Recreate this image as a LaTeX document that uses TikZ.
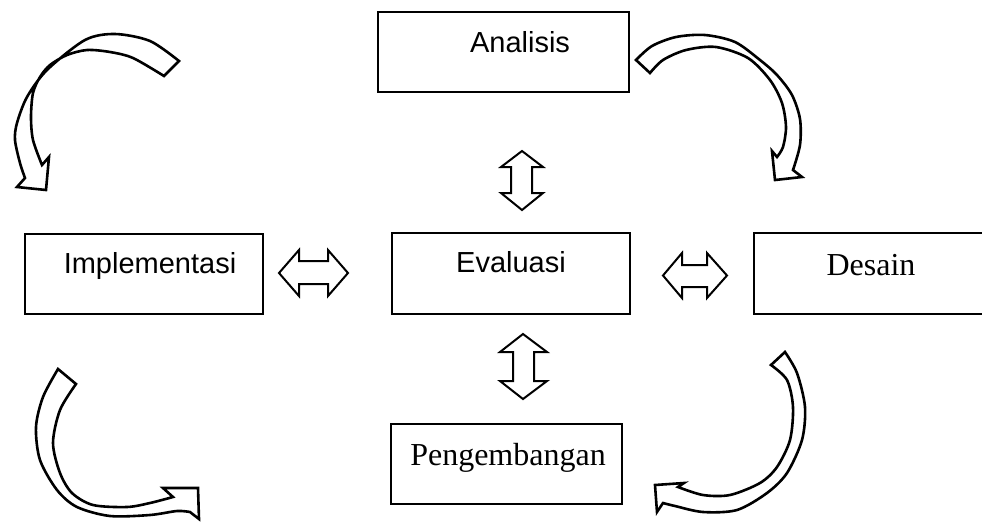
\documentclass[tikz,border=0pt]{standalone}
\usepackage{fontspec}
\setmainfont{Liberation Serif}
\newfontfamily\arialfont{Liberation Sans}

\begin{document}
\begin{tikzpicture}[x=0.5pt,y=-0.5pt,line join=miter,
  box/.style={draw,line width=1pt,inner sep=0pt,minimum height=40pt},
  sans/.style={font=\arialfont\fontsize{14.5}{17}\selectfont,anchor=base,inner sep=0pt},
  serif/.style={font=\fontsize{16}{19}\selectfont,anchor=base,inner sep=0pt},
  blk/.style={draw,line width=1pt},
  curv/.style={draw,line width=1.3pt}]
  \useasboundingbox (0,0) rectangle (982,527);
  % boxes
  \node[box,minimum width=125.5pt] (ana) at (503.5,52) {};
  \node[box,minimum width=119pt,minimum height=40.5pt] (eva) at (511,273.5) {};
  \node[box,minimum width=119pt] (imp) at (144,274) {};
  \node[box,minimum width=118pt,minimum height=40.5pt] (des) at (872,273.5) {};
  \node[box,minimum width=115.5pt] (pen) at (506.5,464) {};
  \node[sans] (anat) at (520,52) {Analisis};
  \node[sans] (evat) at (511,272) {Evaluasi};
  \node[sans] (impt) at (150,273) {Implementasi};
  \node[serif] (dest) at (871,275) {Desain};
  \node[serif] (pent) at (508,465) {Pengembangan};
  % double arrows
  \draw[blk] (279,273) -- (299,250) -- (299,261) -- (328,261) -- (328,250) -- (348,273)
    -- (328,296) -- (328,284) -- (299,284) -- (299,296) -- cycle;
  \draw[blk] (663,275.5) -- (682,253) -- (682,265) -- (707,265) -- (707,253) -- (727,275.5)
    -- (707,298) -- (707,287) -- (682,287) -- (682,298) -- cycle;
  \draw[blk] (522,151) -- (543,167) -- (532,167) -- (532,193) -- (543,193) -- (522,210)
    -- (501,193) -- (511,193) -- (511,167) -- (501,167) -- cycle;
  \draw[blk] (523,334) -- (547,352) -- (534,352) -- (534,381) -- (547,381) -- (523,399)
    -- (500,381) -- (513,381) -- (513,352) -- (500,352) -- cycle;
  % curved arrows
  \draw[curv] plot[smooth] coordinates {(179,61) (150,41) (115,34) (85,40) (47,70) (27,97)
      (17,123) (15,140) (20,163) (25,178)}
    -- (17,187) -- (46,190) -- (49,157)
    -- plot[smooth] coordinates {(42,165) (33,140) (31,117) (33,93) (40,77) (50,65) (67,55)
      (87,50) (110,52) (133,58) (164,76)} -- cycle;
  \draw[curv] plot[smooth] coordinates {(636,60) (652,46) (676,37) (705,35) (735,42) (760,60)
      (777,75) (792,95) (800,119) (800,145) (793,170)}
    -- (802,177) -- (775,180) -- (772,151)
    -- plot[smooth] coordinates {(777,157) (783,147) (786,127) (782,103) (770,80) (748,58)
      (716,47) (686,50) (663,60) (650,73)} -- cycle;
  \draw[curv] plot[smooth] coordinates {(58,369) (43,397) (36,427) (40,460) (57,490) (77,507)
      (110,516) (150,515) (177,511) (190,512)}
    -- (199,519) -- (198,488) -- (163,488)
    -- plot[smooth] coordinates {(173,497) (150,503) (127,507) (93,505) (72,493) (60,473)
      (53,443) (60,410) (76,384)} -- cycle;
  \draw[curv] plot[smooth] coordinates {(785,352) (797,373) (805,407) (802,440) (787,473)
      (767,493) (737,510) (703,512) (675,506) (663,503)}
    -- (657,512) -- (655,485) -- (684,483)
    -- plot[smooth] coordinates {(678,487) (703,495) (730,495) (760,483) (777,467) (790,440)
      (793,407) (787,380) (771,365)} -- cycle;
\end{tikzpicture}
\end{document}
